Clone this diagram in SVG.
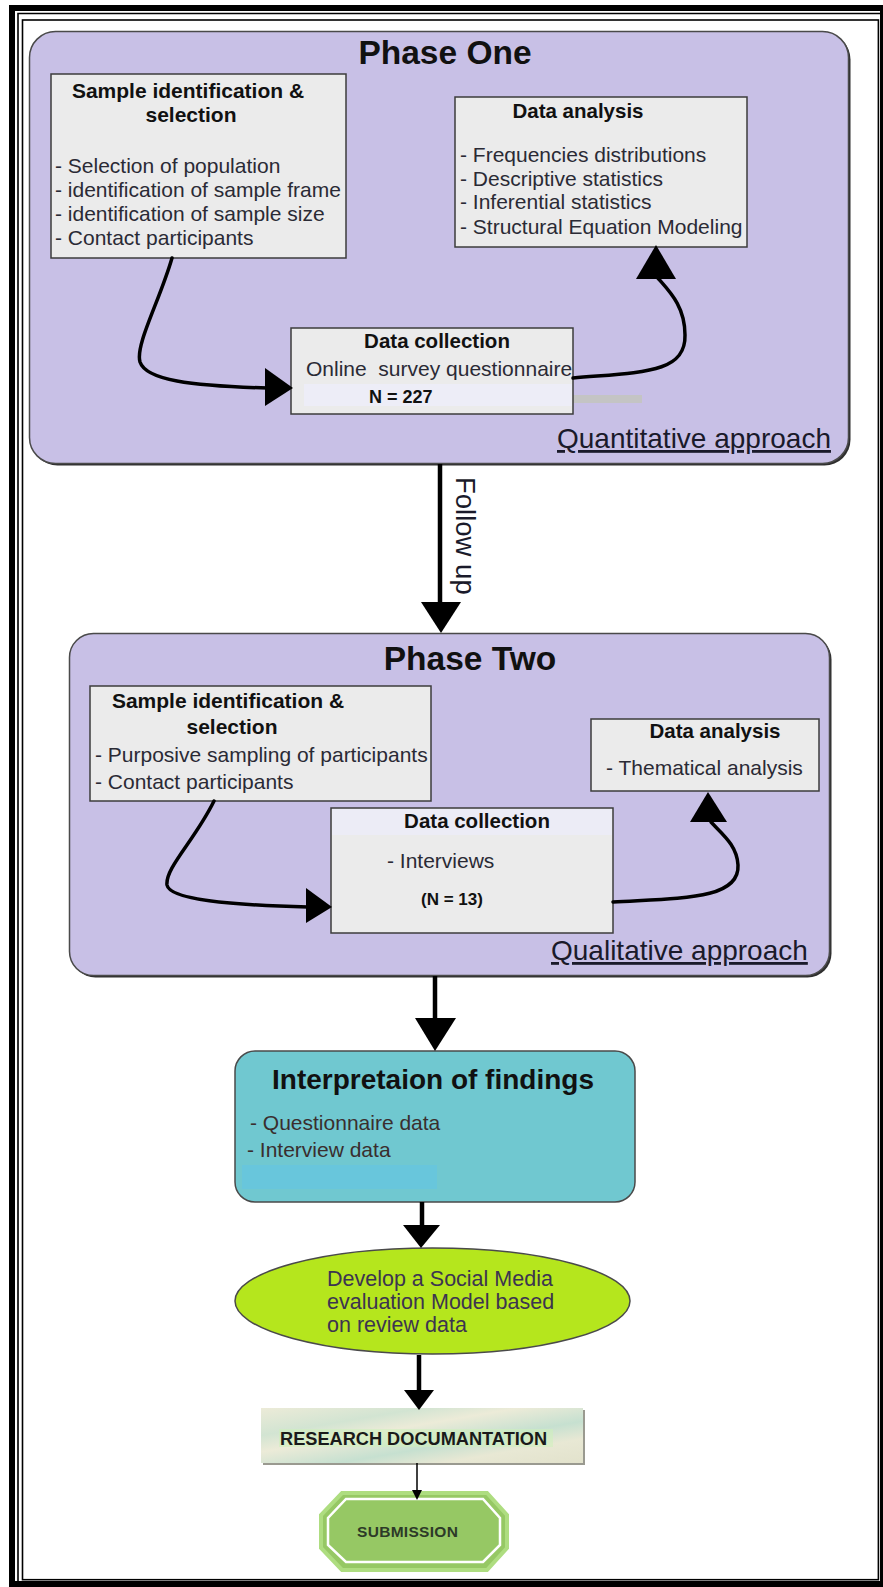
<svg xmlns="http://www.w3.org/2000/svg" width="883" height="1587" viewBox="0 0 883 1587">
<style>
text{font-family:"Liberation Sans",Arial,Helvetica,sans-serif;}
.phase{fill:#c8c0e6;stroke:#4a4a4a;stroke-width:1.5}
.pshadow{fill:#2e2e2e}
.box{fill:#ebebeb;stroke:#3c3c3c;stroke-width:1.5}
.big{font-size:33.5px;font-weight:bold;fill:#111;text-anchor:middle}
.hd{font-size:20.5px;font-weight:bold;fill:#111;text-anchor:middle}
.hs{font-size:21px;font-weight:bold;fill:#111;text-anchor:middle}
.bd{font-size:21px;fill:#2a2a35}
.ap{font-size:28px;fill:#1a1a2a;text-decoration:underline}
.ln{fill:none;stroke:#000;stroke-width:3.5;stroke-linecap:round}
.vl{fill:none;stroke:#000;stroke-width:4.5}
.ah{fill:#000}
</style>
<defs>
<linearGradient id="docg" x1="0" y1="0" x2="1" y2="1">
<stop offset="0" stop-color="#ecebd8"/>
<stop offset="0.25" stop-color="#d2e4d2"/>
<stop offset="0.4" stop-color="#ecebd8"/>
<stop offset="0.62" stop-color="#c6e0d0"/>
<stop offset="0.78" stop-color="#e8e8d4"/>
<stop offset="1" stop-color="#e2e2cc"/>
</linearGradient>
</defs>
<rect x="0" y="0" width="883" height="1587" fill="#fff"/>
<g id="frame" fill="none" stroke="#000">
<rect x="12" y="8" width="871" height="1576" stroke-width="6"/>
<path d="M18,1587 V13.5 H883" stroke-width="1.6"/>
<rect x="22.5" y="20" width="855.9" height="1559.7" stroke-width="1.6"/>
</g>

<g id="phase-one">
<rect class="pshadow" x="31.5" y="33.5" width="819" height="432" rx="26"/>
<rect class="phase" x="29.5" y="31.5" width="819" height="432" rx="26"/>
<text class="big" x="445" y="64">Phase One</text>
<text class="ap" x="557" y="448">Quantitative approach</text>
</g>

<g id="p1-sample">
<rect class="box" x="51" y="74" width="295" height="184"/>
<text class="hs" x="188" y="98">Sample identification &amp;</text>
<text class="hs" x="191" y="122">selection</text>
<text class="bd" x="55" y="173">- Selection of population</text>
<text class="bd" x="55" y="197">- identification of sample frame</text>
<text class="bd" x="55" y="221">- identification of sample size</text>
<text class="bd" x="55" y="245">- Contact participants</text>
</g>

<g id="p1-analysis">
<rect class="box" x="455" y="97" width="292" height="150"/>
<text class="hd" x="578" y="118">Data analysis</text>
<text class="bd" x="460" y="162">- Frequencies distributions</text>
<text class="bd" x="460" y="186">- Descriptive statistics</text>
<text class="bd" x="460" y="209">- Inferential statistics</text>
<text class="bd" x="460" y="234">- Structural Equation Modeling</text>
</g>

<g id="p1-collection">
<rect x="573" y="395" width="69" height="8" fill="#c4c4c4"/>
<rect class="box" x="291" y="328" width="282" height="86"/>
<rect x="304" y="384" width="268" height="22" fill="#ededf7"/>
<text class="hd" x="437" y="348">Data collection</text>
<text class="bd" x="306" y="376">Online&#160; survey questionnaire</text>
<text x="369" y="403" font-size="18px" font-weight="bold" fill="#111">N = 227</text>
</g>

<g id="phase-two">
<rect class="pshadow" x="71.5" y="635.5" width="760" height="342" rx="24"/>
<rect class="phase" x="69.5" y="633.5" width="760" height="342" rx="24"/>
<text class="big" x="470" y="670">Phase Two</text>
<text class="ap" x="551" y="960">Qualitative approach</text>
</g>

<g id="p2-sample">
<rect class="box" x="90" y="686" width="341" height="115"/>
<text class="hs" x="228" y="708">Sample identification &amp;</text>
<text class="hs" x="232" y="734">selection</text>
<text class="bd" x="95" y="762">- Purposive sampling of participants</text>
<text class="bd" x="95" y="789">- Contact participants</text>
</g>

<g id="p2-analysis">
<rect class="box" x="591" y="719" width="228" height="72"/>
<text class="hd" x="715" y="738">Data analysis</text>
<text class="bd" x="606" y="775">- Thematical analysis</text>
</g>

<g id="p2-collection">
<rect class="box" x="331" y="808" width="282" height="125"/>
<rect x="332" y="809" width="280" height="26" fill="#ececf6"/>
<text class="hd" x="477" y="828">Data collection</text>
<text class="bd" x="387" y="868">- Interviews</text>
<text x="421" y="905" font-size="17px" font-weight="bold" fill="#111">(N = 13)</text>
</g>

<g id="interpretation">
<rect x="235" y="1051" width="400" height="151" rx="20" fill="#70c8d0" stroke="#4a4a4a" stroke-width="1.5"/>
<rect x="242" y="1165" width="195" height="24" fill="#68c6dc"/>
<text x="433" y="1089" font-size="28px" font-weight="bold" fill="#111" text-anchor="middle">Interpretaion of findings</text>
<text x="250" y="1130" font-size="21px" fill="#3a2e2e">- Questionnaire data</text>
<text x="247" y="1157" font-size="21px" fill="#3a2e2e">- Interview data</text>
</g>

<g id="develop-model">
<ellipse cx="432.5" cy="1301" rx="197.5" ry="53" fill="#b5e61d" stroke="#4a4a4a" stroke-width="1.5"/>
<text font-size="21.5px" fill="#3c3450">
<tspan x="327" y="1286">Develop a Social Media</tspan>
<tspan x="327" y="1309">evaluation Model based</tspan>
<tspan x="327" y="1332">on review data</tspan>
</text>
</g>

<g id="research-doc">
<rect x="263" y="1410" width="322" height="55" fill="#9a9a90"/>
<rect x="261" y="1408" width="322" height="55" fill="url(#docg)"/>
<rect x="279" y="1429" width="274" height="18" fill="#cdf0bc" opacity="0.55"/>
<text x="280" y="1445" font-size="18.2px" font-weight="bold" fill="#1a1a1a">RESEARCH DOCUMANTATION</text>
</g>

<g id="submission">
<polygon points="342,1493 487,1493 507,1515 507,1548 487,1570 342,1570 321,1548 321,1515" fill="#96c864" stroke="#aedd80" stroke-width="4"/>
<polygon points="346,1499 483,1499 500,1518 500,1545 483,1562 346,1562 328,1545 328,1518" fill="none" stroke="#fff" stroke-width="2.5"/>
<text x="357" y="1537" font-size="15.5px" font-weight="bold" fill="#2d3a28" letter-spacing="0.3">SUBMISSION</text>
</g>

<g id="connectors">
<path class="ln" d="M172,258 C160,300 135,345 140,362 C146,380 190,386 268,388"/>
<polygon class="ah" points="265,368 293,388 265,406"/>
<path class="ln" d="M573,378 C640,372 686,374 685,335 C685,305 668,290 657,277"/>
<polygon class="ah" points="636,279 656,245 676,279"/>
<line class="vl" x1="440" y1="464" x2="440" y2="604"/>
<polygon class="ah" points="421,602 461,602 441,633"/>
<text transform="translate(456,477) rotate(90)" font-size="27.5px" fill="#1a1a2a">Follow up</text>
<path class="ln" d="M214,801 C195,840 165,868 167,885 C170,900 230,905 308,907"/>
<polygon class="ah" points="306,888 332,907 306,923"/>
<path class="ln" d="M613,902 C680,898 740,900 738,865 C737,845 722,834 711,822"/>
<polygon class="ah" points="690,822 708,792 727,822"/>
<line class="vl" x1="435" y1="976" x2="435" y2="1020"/>
<polygon class="ah" points="415,1018 456,1018 435,1051"/>
<line class="vl" x1="422" y1="1202" x2="422" y2="1227"/>
<polygon class="ah" points="403,1225 440,1225 421,1248"/>
<line class="vl" x1="419" y1="1355" x2="419" y2="1392"/>
<polygon class="ah" points="404,1390 434,1390 419,1410"/>
<line x1="417" y1="1463" x2="417" y2="1491" stroke="#000" stroke-width="1.5"/>
<polygon class="ah" points="412,1490 422,1490 417,1500"/>
</g>
</svg>
